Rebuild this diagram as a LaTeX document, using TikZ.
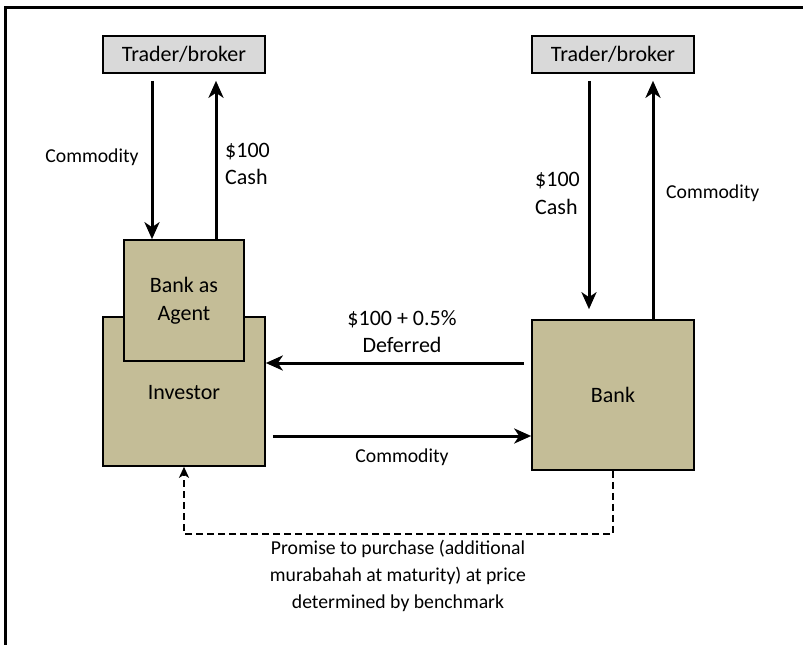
\documentclass[tikz,border=0pt]{standalone}
\usepackage{fontspec}
\setmainfont{Carlito}
\usetikzlibrary{arrows.meta,calc}
\definecolor{tan}{HTML}{C4BD97}
\definecolor{lgray}{HTML}{D9D9D9}
\begin{document}
\begin{tikzpicture}[x=1pt,y=-1pt,
  txt/.style={font=\fontsize{19.7}{27}\selectfont, inner sep=0pt, align=center},
  bigtxt/.style={font=\fontsize{22}{27.5}\selectfont, inner sep=0pt, align=center},
  tbox/.style={draw=black, line width=1.6pt, fill=lgray, minimum width=162pt, minimum height=37pt, inner sep=0pt, font=\fontsize{22}{27}\selectfont},
  bbox/.style={draw=black, line width=1.6pt, fill=tan, inner sep=0pt, font=\fontsize{22}{27.5}\selectfont, align=center},
  arr/.style={line width=3pt, -{Stealth[length=17pt,width=15pt,inset=5pt]}},
  dasharr/.style={line width=2.4pt, dash pattern=on 7pt off 4pt, -{Stealth[length=11pt,width=10pt,inset=3pt]}}
  ]
\useasboundingbox (0,0) rectangle (803,645);
\fill[white] (0,0) rectangle (803,645);
\draw[line width=2.6pt] (5.3,645) -- (5.3,7.2) -- (803,7.2);

\node[tbox] (tbL) at (184,54.5) {Trader/broker};
\node[tbox] (tbR) at (613,54.5) {Trader/broker};
\node[bbox, minimum width=162pt, minimum height=149pt] (inv) at (184,391.5) {};
\node[bigtxt] (invt) at (184,393) {Investor};
\node[bbox, minimum width=120pt, minimum height=121pt] (agent) at (184,300.5) {Bank as\\Agent};
\node[bbox, minimum width=162pt, minimum height=150pt] (bank) at (613,395) {Bank};

% left trader arrows
\draw[arr] ([xshift=-32pt,yshift=-7pt]tbL.south) -- ([xshift=-32pt]agent.north);
\draw[arr] ([xshift=32pt]agent.north) -- ([xshift=32pt,yshift=-7pt]tbL.south);
% right trader arrows
\draw[arr] ([xshift=-24pt,yshift=-7pt]tbR.south) -- ([xshift=-24pt,yshift=10pt]bank.north);
\draw[arr] ([xshift=40pt]bank.north) -- ([xshift=40pt,yshift=-7pt]tbR.south);

% horizontal arrows
\coordinate (h1) at ([yshift=32pt]bank.west);
\coordinate (h1e) at (h1 -| inv.east);
\draw[arr] ([xshift=-7pt]h1) -- (h1e);
\coordinate (h2) at ([yshift=-41pt]bank.west);
\coordinate (h2s) at (h2 -| inv.east);
\draw[arr] ([xshift=7pt]h2s) -- (h2);

% dashed promise
\draw[dasharr] (bank.south) -- ++(0,63) -| (inv.south);

% labels
\node[txt] (l1) at (92,157) {Commodity};
\node[bigtxt, anchor=west, align=left] (l2) at (225,164) {\$100\\Cash};
\node[bigtxt, anchor=west, align=left] (l3) at (535,193.5) {\$100\\Cash};
\node[txt, anchor=west] (l4) at (666,193) {Commodity};
\node[bigtxt] (l5) at (402,331.5) {\$100 + 0.5\%\\Deferred};
\node[txt] (l6) at (402,457) {Commodity};
\node[txt] (l7) at (398,576) {Promise to purchase (additional\\murabahah at maturity) at price\\determined by benchmark};
\end{tikzpicture}
\end{document}
